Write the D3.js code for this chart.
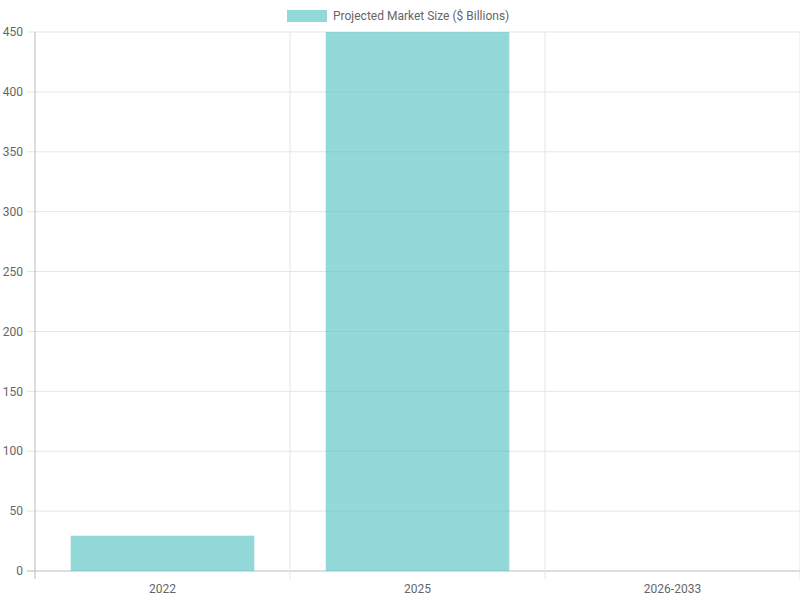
<!DOCTYPE html>
<html><head><meta charset="utf-8">
<script src="https://cdn.jsdelivr.net/npm/d3@7"></script>
<style>body{margin:0;background:#fff}text{font-family:Roboto,"Liberation Sans",Arial,sans-serif}</style>
</head><body><svg id="c" width="800" height="600"></svg>
<script>
const categories = ["2022","2025","2026-2033"];
const values = [29.5, 450, null];
const yTicks = [0,50,100,150,200,250,300,350,400,450];
const seriesName = "Projected Market Size ($ Billions)";

const svg = d3.select("#c");
const L=35,R=800,T=32,B=571;
const x = d3.scaleBand().domain(categories).range([L,R]);
const y = d3.scaleLinear().domain([0,450]).range([B,T]);

const g = svg.append("g");
yTicks.forEach(t=>{
  g.append("line").attr("x1",L-8).attr("x2",R).attr("y1",y(t)).attr("y2",y(t))
   .attr("stroke",t===0?"#bbb":"#e5e5e5");
  g.append("text").attr("x",L-12).attr("y",y(t)).attr("dy","0.35em").attr("text-anchor","end")
   .attr("font-size",12).attr("fill","#666").text(t);
});
const edges = categories.map(c=>x(c)).concat([R]);
edges.forEach((e,i)=>{
  g.append("line").attr("x1",e).attr("x2",e).attr("y1",T).attr("y2",B+8)
   .attr("stroke",i===0?"#bbb":"#e5e5e5");
});
categories.forEach(c=>{
  g.append("text").attr("x",x(c)+x.bandwidth()/2).attr("y",B+22).attr("text-anchor","middle")
   .attr("font-size",12).attr("fill","#666").text(c);
});
const bw = x.bandwidth()*0.72;
categories.forEach((c,i)=>{
  if(values[i]==null) return;
  g.append("rect").attr("x",x(c)+(x.bandwidth()-bw)/2).attr("width",bw)
   .attr("y",y(values[i])).attr("height",B-y(values[i]))
   .attr("fill","rgba(75,192,192,0.6)");
});
// legend
const lg = svg.append("g");
lg.append("rect").attr("x",287).attr("y",10).attr("width",40).attr("height",12).attr("fill","rgba(75,192,192,0.6)");
lg.append("text").attr("x",333).attr("y",16).attr("dy","0.35em").attr("font-size",12).attr("fill","#666").text(seriesName);
</script></body></html>
